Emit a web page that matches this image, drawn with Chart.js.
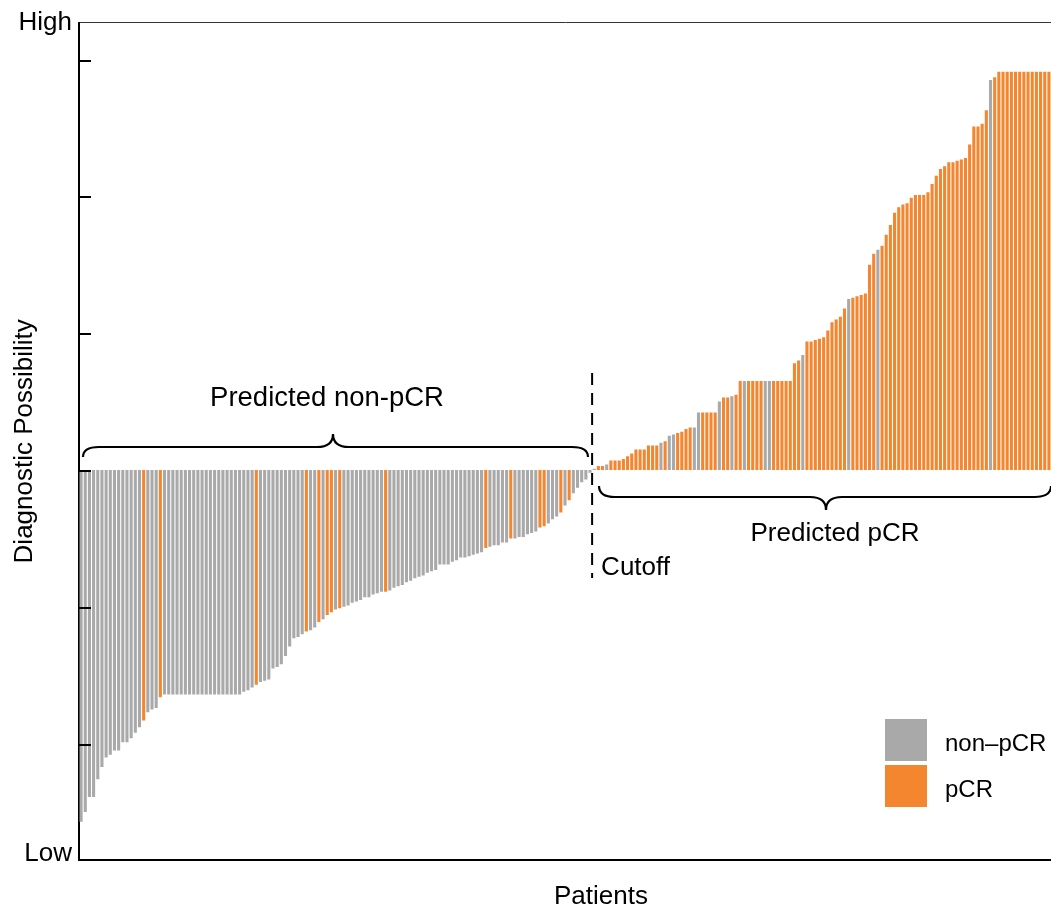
<!DOCTYPE html>
<html>
<head>
<meta charset="utf-8">
<script src="https://cdn.jsdelivr.net/npm/chart.js@4"></script>
<style>
  html, body { margin: 0; padding: 0; background: #fff; overflow: hidden; }
  #wrap { width: 1051px; height: 910px; }
</style>
</head>
<body>
<div id="wrap"><canvas id="myChart"></canvas></div>
<script>
// Diagnostic score relative to the cutoff, sorted, patients below the cutoff (predicted non-pCR)
const scoresBelow = [
  -2.57, -2.50, -2.39, -2.39, -2.26, -2.17, -2.10, -2.08, -2.05, -2.05,
  -1.99, -1.99, -1.96, -1.92, -1.88, -1.83, -1.77, -1.75, -1.74, -1.66,
  -1.64, -1.64, -1.64, -1.64, -1.64, -1.64, -1.64, -1.64, -1.64, -1.64,
  -1.64, -1.64, -1.64, -1.64, -1.64, -1.64, -1.64, -1.64, -1.64, -1.62,
  -1.61, -1.59, -1.57, -1.55, -1.54, -1.53, -1.45, -1.44, -1.42, -1.36,
  -1.29, -1.23, -1.22, -1.20, -1.18, -1.17, -1.15, -1.11, -1.09, -1.06,
  -1.04, -1.02, -1.01, -1.00, -0.99, -0.97, -0.96, -0.95, -0.93, -0.93,
  -0.91, -0.90, -0.89, -0.89, -0.88, -0.86, -0.85, -0.84, -0.82, -0.81,
  -0.79, -0.78, -0.77, -0.75, -0.74, -0.73, -0.69, -0.69, -0.69, -0.67,
  -0.66, -0.64, -0.64, -0.63, -0.62, -0.61, -0.60, -0.57, -0.56, -0.55,
  -0.55, -0.53, -0.53, -0.50, -0.50, -0.49, -0.49, -0.47, -0.46, -0.45,
  -0.42, -0.41, -0.39, -0.36, -0.34, -0.31, -0.26, -0.22, -0.17, -0.13,
  -0.09, -0.07, -0.02
];
// patients above the cutoff (predicted pCR)
const scoresAbove = [
  0.01, 0.03, 0.03, 0.04, 0.07, 0.07, 0.07, 0.08, 0.10, 0.12,
  0.15, 0.15, 0.15, 0.18, 0.18, 0.18, 0.20, 0.21, 0.25, 0.26,
  0.27, 0.28, 0.30, 0.31, 0.31, 0.42, 0.42, 0.42, 0.42, 0.42,
  0.50, 0.53, 0.53, 0.54, 0.55, 0.65, 0.65, 0.65, 0.65, 0.65,
  0.65, 0.65, 0.65, 0.65, 0.65, 0.65, 0.65, 0.65, 0.78, 0.80,
  0.84, 0.94, 0.94, 0.95, 0.96, 0.97, 1.02, 1.08, 1.10, 1.12,
  1.18, 1.25, 1.26, 1.27, 1.28, 1.29, 1.50, 1.58, 1.61, 1.64,
  1.72, 1.79, 1.88, 1.92, 1.94, 1.95, 1.99, 2.01, 2.01, 2.01,
  2.03, 2.09, 2.15, 2.20, 2.22, 2.25, 2.25, 2.26, 2.27, 2.28,
  2.38, 2.51, 2.51, 2.53, 2.63, 2.85, 2.87, 2.91, 2.91, 2.91,
  2.91, 2.91, 2.91, 2.91, 2.91, 2.91, 2.91, 2.91, 2.91, 2.91
];
// patient positions (0-based) with the minority outcome in each group
const pcrBelow = [15, 19, 42, 54, 57, 59, 60, 62, 73, 97, 103, 110, 111, 115, 117];
const nonPcrAbove = [123, 126, 139, 141, 142, 147, 148, 153, 156, 159, 164, 165, 173, 184, 191, 218];

const scores = scoresBelow.concat(scoresAbove);
const patients = scores.map((_, i) => i + 1);
const isPcr = scores.map((_, i) =>
  i < scoresBelow.length ? pcrBelow.includes(i) : !nonPcrAbove.includes(i));

const GRAY = "#A9A9A9";
const ORANGE = "#F4862F";
const FONT = "'Liberation Sans', Arial, sans-serif";
const yMin = -2.85, yMax = 3.27;
const yTicks = [-2, -1, 0, 1, 2, 3];

function drawBrace(ctx, x1, x2, tipX, yEnd, yBar, yTip) {
  const r = 16;
  ctx.beginPath();
  ctx.moveTo(x1, yEnd);
  ctx.quadraticCurveTo(x1, yBar, x1 + r, yBar);
  ctx.lineTo(tipX - r, yBar);
  ctx.quadraticCurveTo(tipX, yBar, tipX, yTip);
  ctx.quadraticCurveTo(tipX, yBar, tipX + r, yBar);
  ctx.lineTo(x2 - r, yBar);
  ctx.quadraticCurveTo(x2, yBar, x2, yEnd);
  ctx.stroke();
}

const annotations = {
  id: "annotations",
  afterDraw(chart) {
    const ctx = chart.ctx;
    const area = chart.chartArea;
    const x = chart.scales.x;
    const y = chart.scales.y;
    ctx.save();
    ctx.strokeStyle = "#000";
    ctx.fillStyle = "#000";

    // tick marks pointing into the plot
    ctx.lineWidth = 2;
    yTicks.forEach((v) => {
      const py = Math.round(y.getPixelForValue(v)) + 1;
      ctx.beginPath();
      ctx.moveTo(area.left, py);
      ctx.lineTo(area.left + 12, py);
      ctx.stroke();
    });

    // cutoff line between the two groups
    const n = scoresBelow.length;
    const cx = (x.getPixelForValue(n - 1) + x.getPixelForValue(n)) / 2;
    ctx.lineWidth = 2;
    ctx.setLineDash([12, 8]);
    ctx.beginPath();
    ctx.moveTo(cx, 373);
    ctx.lineTo(cx, 578);
    ctx.stroke();
    ctx.setLineDash([]);

    // braces
    ctx.lineWidth = 2.2;
    drawBrace(ctx, 83, 588, 333, 457, 447, 434);
    drawBrace(ctx, 599, 1051, 826, 486, 497, 510);

    // texts
    ctx.textBaseline = "alphabetic";
    ctx.textAlign = "center";
    ctx.font = "27.5px " + FONT;
    ctx.fillText("Predicted non-pCR", 327, 406);
    ctx.font = "26px " + FONT;
    ctx.fillText("Predicted pCR", 835, 541);
    ctx.fillText("Patients", 601, 904);
    ctx.textAlign = "left";
    ctx.fillText("Cutoff", cx + 9, 575);

    // legend
    chart.data.datasets.forEach((ds, i) => {
      const top = 719 + i * 46;
      ctx.fillStyle = ds.backgroundColor;
      ctx.fillRect(885, top, 42, 42);
      ctx.fillStyle = "#000";
      ctx.font = "24px " + FONT;
      ctx.fillText(ds.label, 945, top + 32);
    });
    ctx.restore();
  },
};

new Chart(document.getElementById("myChart"), {
  type: "bar",
  data: {
    labels: patients,
    datasets: [
      {
        label: "non\u2013pCR",
        data: scores.map((v, i) => (isPcr[i] ? null : v)),
        backgroundColor: GRAY,
      },
      {
        label: "pCR",
        data: scores.map((v, i) => (isPcr[i] ? v : null)),
        backgroundColor: ORANGE,
      },
    ],
  },
  options: {
    responsive: true,
    maintainAspectRatio: false,
    animation: false,
    layout: { padding: 0 },
    datasets: {
      bar: { grouped: false, barPercentage: 0.74, categoryPercentage: 1, borderWidth: 0 },
    },
    plugins: {
      legend: { display: false },
      tooltip: { enabled: false },
    },
    scales: {
      x: {
        grid: { display: false },
        border: { display: true, width: 2, color: "#000" },
        ticks: { display: false },
        afterFit: (s) => { s.height = 50; },
      },
      xTop: {
        type: "category",
        position: "top",
        grid: { display: false },
        border: { display: true, width: 1, color: "#333" },
        ticks: { display: false },
        afterFit: (s) => { s.height = 22; },
      },
      y: {
        min: yMin,
        max: yMax,
        grid: { display: false, drawTicks: false, tickLength: 0 },
        border: { display: true, width: 2, color: "#000" },
        afterBuildTicks: (s) => {
          s.ticks = [{ value: yMin + 0.045 }, { value: yMax }];
        },
        ticks: {
          padding: 7,
          color: "#000",
          autoSkip: false,
          font: { family: FONT, size: 26 },
          callback: (v, i) => (i === 1 ? "High" : "Low"),
        },
        title: {
          display: true,
          text: "Diagnostic Possibility",
          color: "#000",
          font: { family: FONT, size: 26 },
          padding: { top: 9, bottom: 0 },
        },
        afterFit: (s) => { s.width = 79; },
      },
    },
  },
  plugins: [annotations],
});
</script>
</body>
</html>
